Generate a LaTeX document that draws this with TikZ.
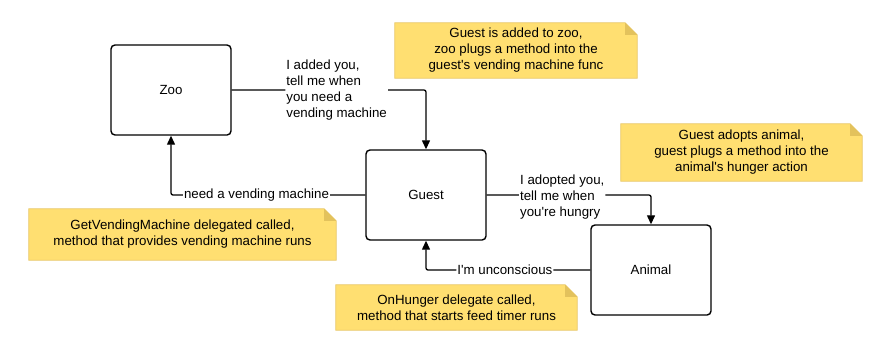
\documentclass[tikz,border=0pt]{standalone}
\usepackage{fontspec}
\setmainfont{Liberation Sans}
\usetikzlibrary{arrows.meta,positioning,backgrounds}
\definecolor{ink}{HTML}{000000}
\definecolor{memo}{HTML}{FFDF71}
\definecolor{memoedge}{HTML}{E9C766}
\definecolor{memofold}{HTML}{E3C25C}

\begin{document}
\begin{tikzpicture}[x=1pt,y=-1pt,
  font=\fontsize{13.3}{16}\selectfont,
  actor/.style={draw=ink,line width=1.4pt,rounded corners=4pt,minimum width=120pt,minimum height=90pt},
  note/.style={align=center,inner sep=0pt},
  msg/.style={fill=white,align=left,inner sep=1pt},
  link/.style={draw=ink,line width=1.3pt,rounded corners=2pt,-{Triangle[length=9pt,width=8pt]}}]
\useasboundingbox (0,0) rectangle (891,360);
\node[actor] (zoo) at (171,90) {Zoo};
\node[actor] (guest) at (426,195) {Guest};
\node[actor] (animal) at (651,270) {Animal};
\node[note,minimum width=242pt,minimum height=55pt] (noteadd) at (516,50.5)
  {Guest is added to zoo,\\zoo plugs a method into the\\guest\textquotesingle s vending machine func};
\node[note,minimum width=241pt,minimum height=57pt] (noteadopt) at (741.5,152.5)
  {Guest adopts animal,\\guest plugs a method into the\\animal\textquotesingle s hunger action};
\node[note,minimum width=307pt,minimum height=51pt] (notevend) at (182.5,234.5)
  {GetVendingMachine delegated called,\\method that provides vending machine runs};
\node[note,minimum width=241pt,minimum height=45pt] (notehunger) at (456.5,307.5)
  {OnHunger delegate called,\\method that starts feed timer runs};
\begin{scope}[on background layer]
\foreach \n in {noteadd,noteadopt,notevend,notehunger} {
  \filldraw[fill=memo,draw=memoedge,line width=0.8pt] (\n.north west) -- ([xshift=-12pt]\n.north east)
    -- ([yshift=-12pt]\n.north east) -- (\n.south east) -- (\n.south west) -- cycle;
  \fill[memofold] ([xshift=-12pt]\n.north east) -- ([xshift=-12pt,yshift=-12pt]\n.north east)
    -- ([yshift=-12pt]\n.north east) -- cycle;
}
\end{scope}
\draw[link] (zoo.east) -| node[msg,pos=0.27] {I added you,\\tell me when\\you need a\\vending machine} (guest.north);
\draw[link] (guest.west) -| node[msg,pos=0.28] {need a vending machine} (zoo.south);
\draw[link] (guest.east) -| node[msg,pos=0.23,yshift=-2pt] {I adopted you,\\tell me when\\you\textquotesingle re hungry} (animal.north);
\draw[link] (animal.west) -| node[msg,pos=0.26] {I\textquotesingle m unconscious} (guest.south);
\end{tikzpicture}
\end{document}
